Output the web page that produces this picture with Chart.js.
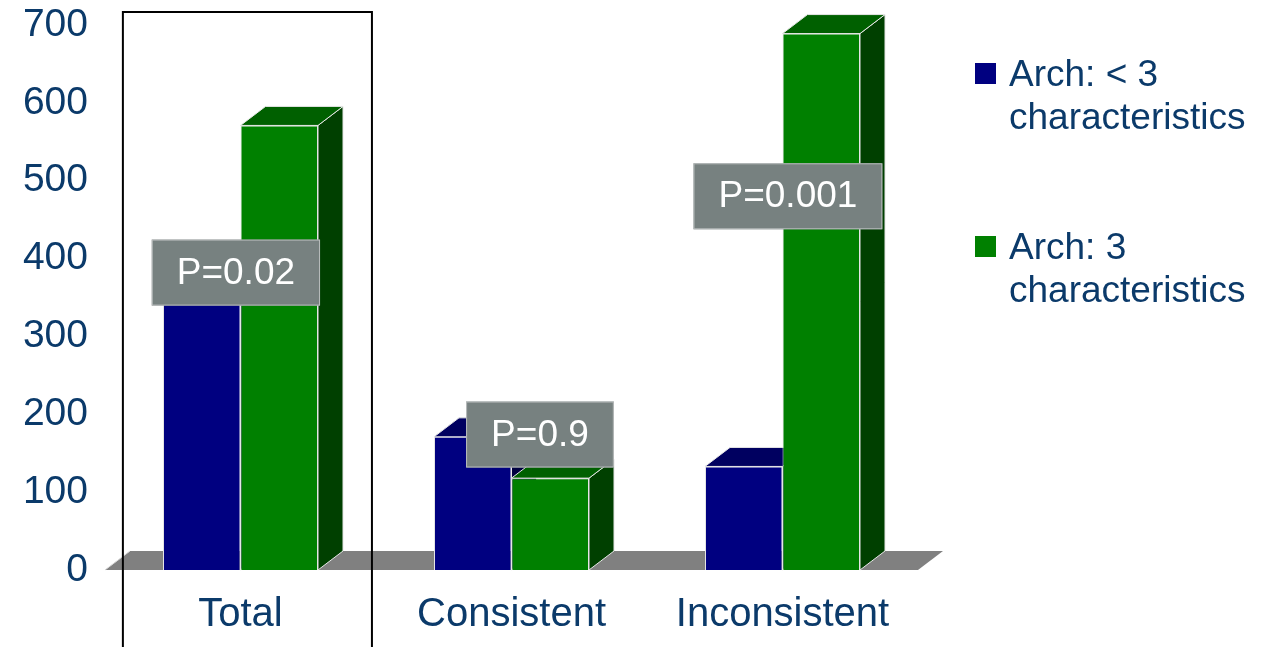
<!DOCTYPE html>
<html>
<head>
<meta charset="utf-8">
<script src="https://cdn.jsdelivr.net/npm/chart.js@4/dist/chart.umd.min.js"></script>
<style>
  html, body { margin: 0; padding: 0; background: #ffffff; }
  #wrap { width: 1262px; height: 647px; position: relative; }
</style>
</head>
<body>
<div id="wrap"><canvas id="chart" width="1262" height="647"></canvas></div>
<script>
// Chart values
const categories = ['Total', 'Consistent', 'Inconsistent'];
const seriesNames = [['Arch: < 3', 'characteristics'], ['Arch: 3', 'characteristics']];
const archFewer = [365, 171, 133];
const archThree = [571, 118, 689];
const yTicks = [0, 100, 200, 300, 400, 500, 600, 700];
const pValues = ['P=0.02', 'P=0.9', 'P=0.001'];

// Where each P-value box sits: category offset (in category widths) and value level
const pBoxPlace = [
  { dc: -0.017, v: 382 },
  { dc: 0.105, v: 174 },
  { dc: 0.02, v: 480 }
];

const FONT = '"Liberation Sans", Arial, sans-serif';
const TEXT = '#0b3a6a';
const DEPTH_X = 25, DEPTH_Y = 19;

const faceColors = [
  { front: '#000080', top: '#000060', side: '#000040' },
  { front: '#008000', top: '#006000', side: '#004000' }
];

function poly(ctx, pts, fill, stroke) {
  ctx.beginPath();
  ctx.moveTo(pts[0][0], pts[0][1]);
  for (let i = 1; i < pts.length; i++) ctx.lineTo(pts[i][0], pts[i][1]);
  ctx.closePath();
  ctx.fillStyle = fill;
  ctx.fill();
  if (stroke) {
    ctx.strokeStyle = stroke;
    ctx.lineWidth = 1;
    ctx.stroke();
  }
}

// Floor slab and the top/side faces of every bar, drawn before the front faces
const depthPlugin = {
  id: 'depth',
  beforeDatasetsDraw(chart) {
    const { ctx, chartArea } = chart;
    const base = chart.scales.y.getPixelForValue(0);
    ctx.save();
    poly(ctx, [
      [chartArea.left, base],
      [chartArea.left + DEPTH_X, base - DEPTH_Y],
      [chartArea.right + DEPTH_X, base - DEPTH_Y],
      [chartArea.right, base]
    ], '#808080', null);
    ctx.strokeStyle = '#d8d8d8';
    ctx.lineWidth = 1;
    ctx.beginPath();
    ctx.moveTo(chartArea.left, base);
    ctx.lineTo(chartArea.left + DEPTH_X, base - DEPTH_Y);
    ctx.stroke();

    const n = categories.length;
    for (let i = 0; i < n; i++) {
      chart.data.datasets.forEach((ds, di) => {
        const el = chart.getDatasetMeta(di).data[i];
        const left = el.x - el.width / 2;
        const right = el.x + el.width / 2;
        const top = el.y;
        const bottom = el.base;
        const c = faceColors[di];
        poly(ctx, [
          [right, top], [right + DEPTH_X, top - DEPTH_Y],
          [right + DEPTH_X, bottom - DEPTH_Y], [right, bottom]
        ], c.side, '#e6e6e6');
        poly(ctx, [
          [left, top], [left + DEPTH_X, top - DEPTH_Y],
          [right + DEPTH_X, top - DEPTH_Y], [right, top]
        ], c.top, '#e6e6e6');
      });
    }
    ctx.restore();
  },
  afterDatasetsDraw(chart) {
    const { ctx } = chart;
    const xs = chart.scales.x, ys = chart.scales.y;
    const catW = xs.getPixelForValue(1) - xs.getPixelForValue(0);
    ctx.save();

    // frame around the Total group
    const fx0 = xs.getPixelForValue(0) - 0.434 * catW;
    const fx1 = xs.getPixelForValue(0) + 0.485 * catW;
    ctx.strokeStyle = '#000000';
    ctx.lineWidth = 2;
    ctx.strokeRect(fx0, 12, fx1 - fx0, 660);

    // P-value boxes
    ctx.font = '37px ' + FONT;
    ctx.textAlign = 'center';
    ctx.textBaseline = 'middle';
    pValues.forEach((txt, i) => {
      const cx = xs.getPixelForValue(i) + pBoxPlace[i].dc * catW;
      const cy = ys.getPixelForValue(pBoxPlace[i].v);
      const w = ctx.measureText(txt).width + 50;
      const h = 66;
      ctx.fillStyle = '#778180';
      ctx.fillRect(cx - w / 2, cy - h / 2, w, h);
      ctx.strokeStyle = '#b9bdbd';
      ctx.lineWidth = 1;
      ctx.strokeRect(cx - w / 2 + 0.5, cy - h / 2 + 0.5, w - 1, h - 1);
      ctx.fillStyle = '#ffffff';
      ctx.fillText(txt, cx, cy + 1);
    });

    // legend
    const legendY = [73, 246];
    ctx.textAlign = 'left';
    seriesNames.forEach((lines, i) => {
      ctx.fillStyle = faceColors[i].front;
      ctx.fillRect(975, legendY[i] - 10, 21, 21);
      ctx.fillStyle = TEXT;
      lines.forEach((ln, k) => {
        ctx.fillText(ln, 1009, legendY[i] + 3 + k * 43);
      });
    });
    ctx.restore();
  }
};

new Chart(document.getElementById('chart'), {
  type: 'bar',
  data: {
    labels: categories,
    datasets: [
      { label: seriesNames[0].join(' '), data: archFewer, backgroundColor: faceColors[0].front,
        borderColor: '#e6e6e6', borderWidth: 1, barPercentage: 1, categoryPercentage: 0.572 },
      { label: seriesNames[1].join(' '), data: archThree, backgroundColor: faceColors[1].front,
        borderColor: '#e6e6e6', borderWidth: 1, barPercentage: 1, categoryPercentage: 0.572 }
    ]
  },
  options: {
    responsive: false,
    animation: false,
    events: [],
    layout: { padding: { top: 25, right: 344, bottom: 0, left: 0 } },
    plugins: { legend: { display: false }, tooltip: { enabled: false } },
    scales: {
      x: {
        afterFit(scale) { scale.height = 77; },
        grid: { display: false, drawTicks: false },
        border: { display: false },
        ticks: { color: TEXT, font: { family: FONT, size: 40 }, padding: 21 }
      },
      y: {
        min: 0, max: 700,
        afterBuildTicks(scale) { scale.ticks = yTicks.map(v => ({ value: v })); },
        afterFit(scale) { scale.width = 105; scale.paddingTop = 0; scale.paddingBottom = 0; },
        grid: { display: false, drawTicks: false },
        border: { display: false },
        ticks: { color: TEXT, font: { family: FONT, size: 39, lineHeight: 0.5 }, padding: 17 }
      }
    }
  },
  plugins: [depthPlugin]
});
</script>
</body>
</html>
